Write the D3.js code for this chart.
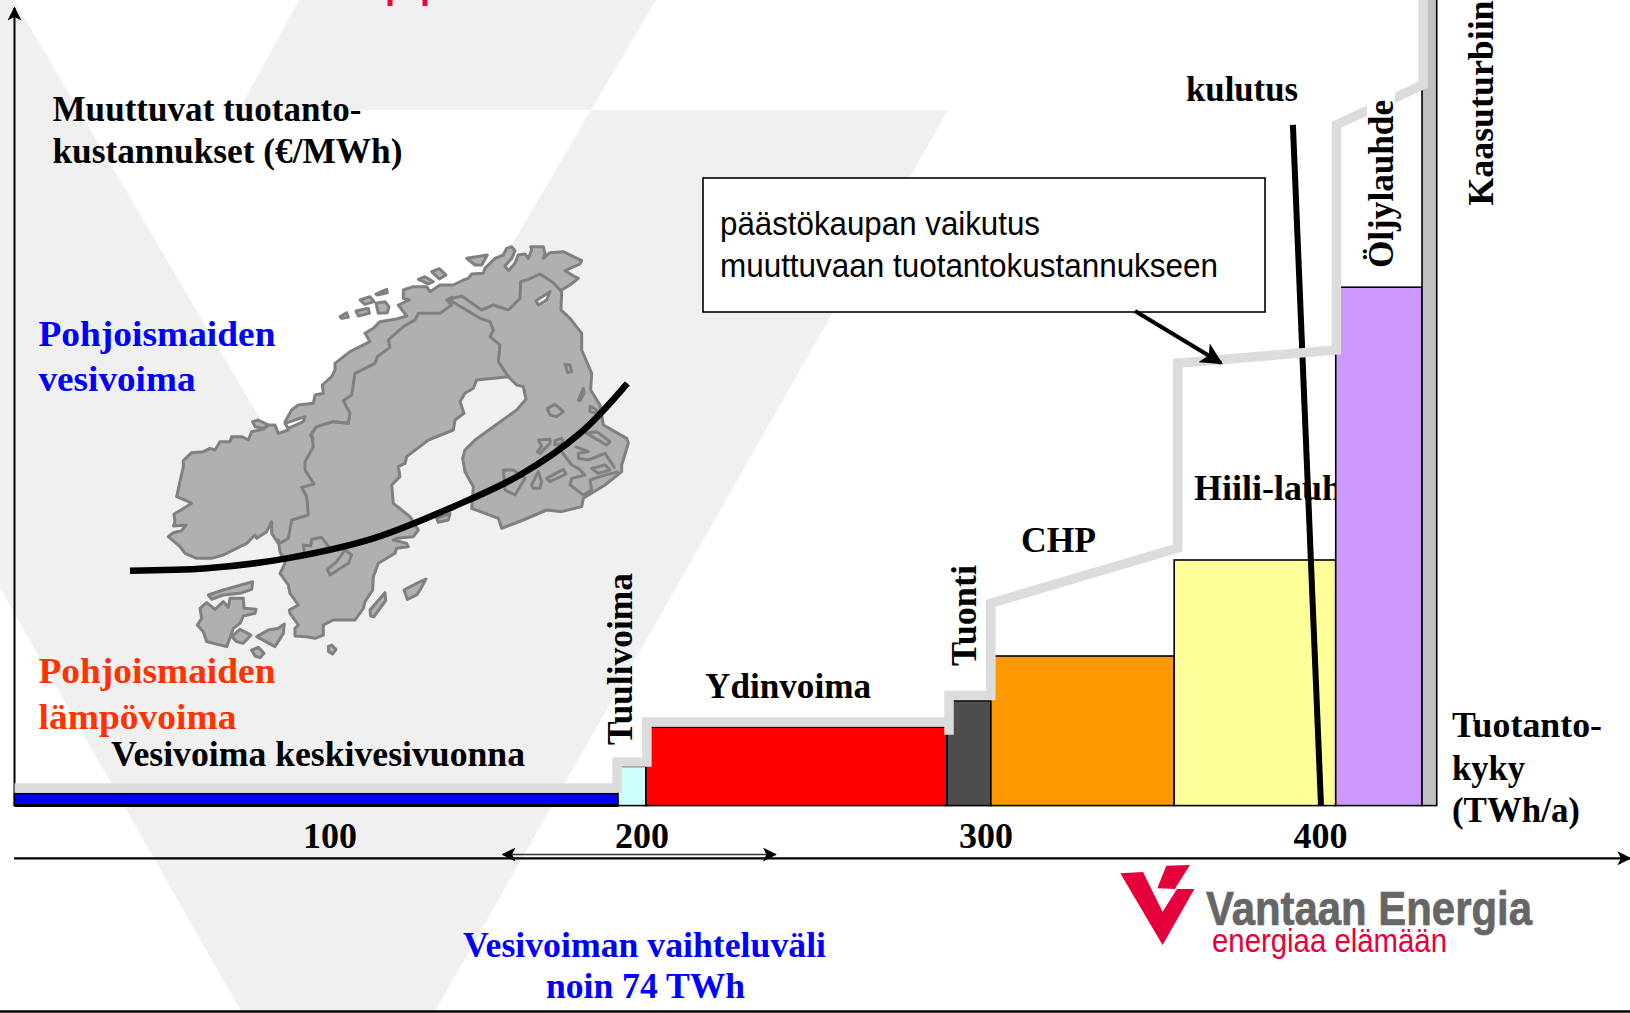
<!DOCTYPE html>
<html>
<head>
<meta charset="utf-8">
<script src="https://cdn.jsdelivr.net/npm/d3@7"></script>
<style>
html, body { margin: 0; padding: 0; background: #fff; overflow: hidden; }
svg { display: block; }
</style>
</head>
<body>
<svg id="chart" width="1630" height="1013"></svg>
<script>
// production capacity steps (TWh/a) and variable cost heights (scale has no printed numbers)
var bar_names = ['Vesivoima', 'Tuulivoima', 'Ydinvoima', 'Tuonti', 'CHP', 'Hiili-lauhde', 'Öljylauhde', 'Kaasuturbiini'];
var bar_edges = [0, 192.5, 201.3, 288.8, 301.6, 356.4, 404.7, 430.5, 434.9];
var bar_tops = [1.5, 4.9, 9.8, 13.1, 18.7, 30.7, 64.8, 110];
var bar_cols = ['#0000ff', '#ccffff', '#ff0000', '#4d4d4d', '#ff9900', '#ffff99', '#cc99ff', '#c0c0c0'];
// cost curve with emission trading
var cost_x = [0, 192.2, 192.2, 201.6, 201.6, 289.4, 289.4, 289.4, 301.6, 301.6, 357.5, 357.5, 404.9, 404.9, 430.8, 430.8];
var cost_y = [2.2, 2.2, 5.45, 5.45, 10.45, 10.45, 8.85, 13.75, 13.75, 25.3, 32.2, 55.3, 56.95, 85.1, 90.1, 101.3];
// demand line
var demand_x = [391.9, 400.3];
var demand_y = [85.1, 0];
var tick_vals = [100, 200, 300, 400];

function crop(dx, dy, pts) {
    return pts.map(function (p) { return [p[0] + dx, p[1] + dy]; });
}
var map_outline = [].concat(
    crop(120, 480, [[25,440],[40,428],[65,422],[78,405],[40,408],[45,395],[42,372],[60,362],[95,340],[75,330],[50,320],[70,230],[70,212],[95,188],[130,185],[150,175],[165,180],[180,155],[210,155],[215,140],[245,140],[265,150],[275,125],[310,118],[325,105],[345,105],[355,130],[385,120],[375,95],[395,60],[415,45],[460,40],[465,15],[490,10]]),
    crop(510, 120, [[97,345],[125,320],[135,300],[135,280],[180,245],[240,215],[225,190],[250,175],[270,155],[315,148],[350,138],[325,105],[358,90],[340,85],[340,60],[370,50],[410,50],[420,65],[450,45],[490,45],[520,30],[535,25]]),
    crop(840, 0, [[215,132],[250,130],[255,115],[285,85],[310,75],[320,55],[335,50],[345,62],[335,85],[315,108],[325,122],[345,100],[355,75],[375,72],[385,85],[395,60],[392,50],[430,50],[435,70],[430,85],[450,68],[490,65],[545,92],[540,102],[495,122],[525,140],[535,145],[510,165],[485,180],[483,240],[510,265],[545,310],[545,360],[575,430],[572,480]]),
    crop(960, 420, [[480,105],[490,165],[560,205],[565,220],[545,285],[545,305],[495,345],[430,385],[425,410],[365,425],[320,420],[250,450],[185,475],[175,445],[95,415],[100,350],[75,305],[68,265],[75,240],[105,210],[160,170],[230,120],[258,88],[250,50],[230,45],[205,20],[110,30],[100,55],[75,70],[60,95],[72,130],[45,150],[40,180]]),
    [[925,630],[860,680],[855,700],[835,710],[840,740],[815,765],[820,820],[870,860],[895,900],[880,920],[830,925]],
    crop(210, 900, [[610,30],[650,40],[655,50],[620,55],[615,70],[565,100],[550,140],[548,180],[525,215],[520,235],[495,270],[430,270],[400,285],[400,315],[375,325],[350,320],[315,318],[315,295],[325,285],[300,250],[298,240],[325,225],[300,190],[295,165],[270,130],[285,100],[270,65],[265,30]]),
    crop(120, 480, [[355,460],[335,430],[335,395],[320,425],[290,445],[285,435],[260,460],[190,495],[155,505],[110,505],[75,490],[60,470]])
);
var map_borders = [
    crop(510, 120, [[490,80],[470,90],[485,105],[450,130],[385,130],[375,150],[340,170],[295,210],[300,232],[262,260],[255,280],[195,310],[185,375],[160,392],[180,430],[175,460],[130,455],[80,470],[62,495],[70,510]]),
    crop(120, 480, [[570,100],[520,95],[470,110],[455,130],[460,170],[435,215],[435,240],[462,282],[425,292],[440,320],[445,375],[395,390],[385,445],[360,460]]),
    crop(840, 0, [[145,208],[185,198],[245,240],[280,225],[325,240],[360,205],[362,155],[385,148],[420,132],[460,158],[485,185]]),
    crop(840, 0, [[145,208],[240,265],[270,275],[280,300],[270,320],[300,345],[295,395],[325,440]]),
    crop(210, 900, [[345,80],[340,45],[362,48],[365,28],[395,22],[420,55]]),
    crop(960, 420, [[365,245],[395,285],[415,295],[435,315],[395,325],[390,345],[430,375],[455,360],[450,330],[480,320],[535,305]]),
    crop(960, 420, [[405,230],[420,235],[445,245],[415,250],[415,265],[445,270],[495,250],[525,295]])
];
var map_islands = [
    crop(510, 120, [[150,140],[170,128],[175,142],[155,145]]), crop(510, 120, [[198,123],[235,115],[238,130],[205,138]]),
    crop(510, 120, [[210,90],[240,80],[252,95],[225,103]]), crop(510, 120, [[258,72],[290,58],[292,68],[262,75]]),
    crop(510, 120, [[258,100],[285,95],[297,110],[292,128],[265,130]]),
    crop(840, 0, [[55,148],[75,140],[100,155],[85,162]]), crop(840, 0, [[95,125],[118,116],[138,135],[118,147]]),
    crop(840, 0, [[200,85],[262,75],[245,105],[225,105]]), crop(840, 0, [[495,403],[510,405],[515,425],[503,428]]),
    crop(120, 480, [[278,95],[295,90],[325,105],[310,115],[285,110]]),
    crop(210, 900, [[30,235],[50,218],[75,238],[100,215],[115,232],[120,205],[160,205],[162,235],[198,238],[195,250],[160,258],[150,280],[130,295],[110,350],[50,335],[40,305],[22,285],[35,265]]),
    crop(210, 900, [[55,195],[100,180],[188,155],[185,178],[150,190],[100,195],[65,208]]),
    crop(210, 900, [[125,320],[150,298],[183,315],[160,340],[140,335]]),
    crop(210, 900, [[200,320],[235,300],[265,295],[283,282],[280,310],[255,350]]),
    crop(210, 900, [[185,360],[205,352],[222,370],[210,383],[195,378]]),
    crop(210, 900, [[415,350],[425,345],[438,358],[428,372],[416,365]]),
    crop(210, 900, [[540,240],[585,188],[587,212],[552,260],[542,258]]),
    crop(210, 900, [[642,180],[680,160],[708,147],[690,180],[680,195],[652,208]]),
    crop(210, 900, [[412,118],[440,95],[465,60],[485,75],[475,100],[420,135]]),
    [[950,865],[990,850],[985,870],[955,877]],
    crop(960, 420, [[322,115],[345,103],[370,125],[350,140],[330,135]]),
    crop(960, 420, [[415,90],[430,55],[432,70],[420,92]]),
    crop(960, 420, [[450,108],[470,120],[470,130],[450,125]]),
    crop(960, 420, [[295,210],[330,208],[330,220],[300,250],[292,245],[305,228]]),
    crop(960, 420, [[345,212],[365,205],[370,220],[345,225]]),
    crop(960, 420, [[440,190],[470,185],[510,215],[500,225]]),
    crop(960, 420, [[455,295],[495,285],[510,300],[475,310]]),
    crop(960, 420, [[320,325],[370,298],[378,312],[330,335]]),
    crop(960, 420, [[190,300],[220,300],[255,325],[240,350],[225,375],[195,360]]),
    crop(960, 420, [[275,345],[295,305],[305,335],[300,355],[280,355]])
];
// these two have a white inside
var map_lakes = [
    crop(840, 0, [[408,212],[450,185],[440,210],[415,225]]),
    crop(120, 480, [[375,100],[435,80],[430,95],[385,115]])
];
var map_curve = [[30,1022],[260,1015],[500,985],[760,925],[1000,830],[1200,735],[1380,610],[1522,460]];

function drawChart() {
    const svg = d3.select('#chart');
    var serif = '"Liberation Serif", serif';
    var sans = '"Liberation Sans", sans-serif';

    // x is hand spaced in the original, ticks are not equally far apart
    var x = d3.scaleLinear()
        .domain([0, 100, 200, 300, 400, 440])
        .range([14.5, 329.5, 641.4, 985.5, 1320, 1453.8]);
    var y = d3.scaleLinear().domain([0, 100]).range([805.6, 5.6]);
    var line = d3.line();

    var defs = svg.append('defs');
    function marker(id, size) {
        defs.append('marker')
            .attr('id', id)
            .attr('viewBox', '0 0 10 10')
            .attr('refX', 9)
            .attr('refY', 5)
            .attr('markerUnits', 'userSpaceOnUse')
            .attr('markerWidth', size)
            .attr('markerHeight', size)
            .attr('orient', 'auto-start-reverse')
            .append('path')
            .attr('d', 'M0,0 L10,5 L0,10 L2.5,5 Z')
            .attr('fill', '#000');
    }
    marker('head', 14);
    marker('head-big', 22);

    // watermark behind everything
    var watermark = [
        [[0,0],[14,0],[335,546],[591,110],[948,110],[434,1013],[242,1013],[0,588]],
        [[299,0],[656,0],[591,110],[239,110]]
    ];
    svg.selectAll('.mark').data(watermark).enter().append('path')
        .attr('class', 'mark')
        .attr('d', function (d) { return line(d) + 'Z'; })
        .attr('fill', '#f0f0f0');

    // cut off title at the top edge
    svg.selectAll('.cut').data([387.5, 422.5]).enter().append('rect')
        .attr('class', 'cut')
        .attr('x', function (d) { return d; })
        .attr('y', 0)
        .attr('width', 5)
        .attr('height', 6)
        .attr('fill', '#e8063c');

    function label(txt, px, py, col, len, size, font, rot) {
        var t = svg.append('text')
            .text(txt)
            .attr('x', px)
            .attr('y', py)
            .attr('fill', col || '#000')
            .attr('font-family', font || serif)
            .attr('font-weight', font ? null : 700)
            .attr('font-size', (size || 36) + 'px');
        if (len) {
            t.attr('textLength', len).attr('lengthAdjust', 'spacingAndGlyphs');
        }
        if (rot) {
            t.attr('transform', 'rotate(-90, ' + px + ', ' + py + ')');
        }
        return t;
    }

    // map
    var mx = function (p) { return [p[0] / 3 + 120, p[1] / 3 + 230]; };
    var map = svg.append('g')
        .attr('stroke', '#808080')
        .attr('stroke-width', 3)
        .attr('stroke-linejoin', 'round');
    map.append('path')
        .attr('d', line(map_outline.map(mx)) + 'Z')
        .attr('fill', '#b0b0b0');
    map.selectAll('.isl').data(map_islands).enter().append('path')
        .attr('class', 'isl')
        .attr('d', function (d) { return line(d.map(mx)) + 'Z'; })
        .attr('fill', '#b0b0b0');
    map.selectAll('.lake').data(map_lakes).enter().append('path')
        .attr('class', 'lake')
        .attr('d', function (d) { return line(d.map(mx)) + 'Z'; })
        .attr('fill', '#fff');
    map.selectAll('.bord').data(map_borders).enter().append('path')
        .attr('class', 'bord')
        .attr('d', function (d) { return line(d.map(mx)); })
        .attr('fill', 'none');
    svg.append('path')
        .attr('d', d3.line().curve(d3.curveCatmullRom)(map_curve.map(mx)))
        .attr('fill', 'none')
        .attr('stroke', '#000')
        .attr('stroke-width', 6.5);

    // goes under the bars, the purple one hides the end of it
    label('Hiili-lauhde', 1194, 500);

    // axes
    svg.append('line')
        .attr('x1', 14.5).attr('y1', 806).attr('x2', 14.5).attr('y2', 8)
        .attr('stroke', '#000').attr('stroke-width', 2)
        .attr('marker-end', 'url(#head)');
    svg.append('line')
        .attr('x1', 14).attr('y1', 858.3).attr('x2', 1630).attr('y2', 858.3)
        .attr('stroke', '#000').attr('stroke-width', 2.2)
        .attr('marker-end', 'url(#head)');
    var x_axis = d3.axisTop(x).tickValues(tick_vals).tickSize(0).tickPadding(10);
    var ax = svg.append('g').attr('transform', 'translate(0, 858.3)').call(x_axis);
    ax.select('.domain').remove();
    ax.selectAll('text')
        .attr('font-family', serif)
        .attr('font-weight', 700)
        .attr('font-size', '36px')
        .attr('fill', '#000');

    // production stack
    var bars = d3.range(bar_names.length);
    svg.selectAll('.bar').data(bars).enter().append('rect')
        .attr('class', 'bar')
        .attr('x', function (i) { return x(bar_edges[i]); })
        .attr('y', function (i) { return y(bar_tops[i]); })
        .attr('width', function (i) { return x(bar_edges[i + 1]) - x(bar_edges[i]); })
        .attr('height', function (i) { return y(0) - y(bar_tops[i]); })
        .attr('fill', function (i) { return bar_cols[i]; })
        .attr('stroke', '#000')
        .attr('stroke-width', 1.6);
    svg.append('line')
        .attr('x1', x(0)).attr('y1', y(0)).attr('x2', x(bar_edges[1])).attr('y2', y(0))
        .attr('stroke', '#000').attr('stroke-width', 3);

    // demand line, under the grey cost line
    svg.append('path')
        .attr('d', line(demand_x.map(function (d, i) { return [x(d), y(demand_y[i])]; })))
        .attr('stroke', '#000')
        .attr('stroke-width', 6)
        .attr('fill', 'none');

    svg.append('path')
        .attr('d', line(cost_x.map(function (d, i) { return [x(d), y(cost_y[i])]; })))
        .attr('fill', 'none')
        .attr('stroke', '#dcdcdc')
        .attr('stroke-width', 9.5)
        .attr('stroke-linejoin', 'miter');

    // white label background cuts the grey line
    svg.append('rect')
        .attr('x', 1367).attr('y', 92).attr('width', 28).attr('height', 176)
        .attr('fill', '#fff');

    // callout box
    svg.append('rect')
        .attr('x', 703).attr('y', 178)
        .attr('width', 562).attr('height', 134)
        .attr('fill', '#fff')
        .attr('stroke', '#000')
        .attr('stroke-width', 1.6);
    label('päästökaupan vaikutus', 720, 235, '#000', 320, 34, sans);
    label('muuttuvaan tuotantokustannukseen', 720, 277, '#000', 498, 34, sans);
    svg.append('line')
        .attr('x1', 1135).attr('y1', 311).attr('x2', 1221).attr('y2', 363)
        .attr('stroke', '#000').attr('stroke-width', 4)
        .attr('marker-end', 'url(#head-big)');

    // labels
    label('Muuttuvat tuotanto-', 52.5, 120.5, '#000', 309);
    label('kustannukset (€/MWh)', 52.5, 162.5, '#000', 350);
    label('Pohjoismaiden', 38.5, 345.5, '#0000ff', 237);
    label('vesivoima', 38.5, 390.5, '#0000ff', 157);
    label('Pohjoismaiden', 38.5, 682.5, '#ff3300', 237);
    label('lämpövoima', 38.5, 728.5, '#ff3300', 198);
    label('Vesivoima keskivesivuonna', 111, 765.5, '#000', 414);
    label('Ydinvoima', 705, 698, '#000', 166);
    label('CHP', 1021, 552, '#000', 75);
    label('kulutus', 1186, 101, '#000', 112);
    label('Tuotanto-', 1452, 737, '#000', 150);
    label('kyky', 1452, 779.5, '#000', 73);
    label('(TWh/a)', 1452, 822, '#000', 128);
    label('Tuulivoima', 631.5, 745, '#000', 172, 36, null, true);
    label('Tuonti', 976, 666, '#000', 101, 36, null, true);
    label('Öljylauhde', 1393, 268, '#000', 168, 36, null, true);
    label('Kaasuturbiini', 1492.5, 205.5, '#000', 215, 36, null, true);
    label('Vesivoiman vaihteluväli', 463, 956.5, '#0000ff', 363);
    label('noin 74 TWh', 546, 997.5, '#0000ff', 199);

    // range arrow above the x axis
    svg.append('line')
        .attr('x1', 503).attr('y1', 854.5).attr('x2', 775.5).attr('y2', 854.5)
        .attr('stroke', '#333').attr('stroke-width', 1.5)
        .attr('marker-start', 'url(#head)')
        .attr('marker-end', 'url(#head)');

    // logo
    var logo = [[1120.3,873.3],[1143,872],[1162.6,911.7],[1177,889],[1157.3,888.3],[1166.3,865.7],[1190,865],[1174.8,889],[1194.4,889],[1162.6,945]];
    svg.append('path').attr('d', line(logo) + 'Z').attr('fill', '#e4003a');
    label('Vantaan Energia', 1206, 924.5, '#666666', 326, 48, sans)
        .attr('font-weight', 700)
        .attr('stroke', '#666666')
        .attr('stroke-width', 0.7);
    label('energiaa elämään', 1212, 952, '#e4003a', 235, 33, sans);

    // bottom edge of the slide
    svg.append('line')
        .attr('x1', 0).attr('y1', 1011.5).attr('x2', 1630).attr('y2', 1011.5)
        .attr('stroke', '#000').attr('stroke-width', 2.5);
}

window.onload = drawChart;
</script>
</body>
</html>
